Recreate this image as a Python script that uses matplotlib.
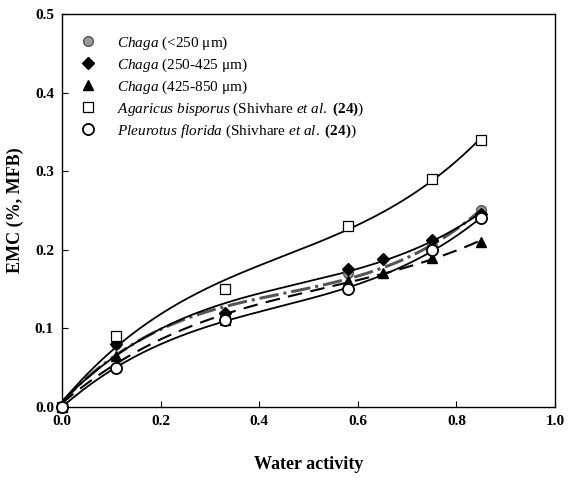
import numpy as np
import matplotlib
matplotlib.use('Agg')
import matplotlib.pyplot as plt
from matplotlib.lines import Line2D

plt.rcParams['font.family'] = 'Liberation Serif'
plt.rcParams['mathtext.fontset'] = 'custom'
plt.rcParams['mathtext.rm'] = 'Liberation Serif'
plt.rcParams['mathtext.it'] = 'Liberation Serif:italic'
plt.rcParams['mathtext.bf'] = 'Liberation Serif:bold'

# ── Data ─────────────────────────────────────────────────────────────────────
aw_small = [0.0, 0.11, 0.33, 0.58, 0.75, 0.85]
emc_small = [0.0, 0.08, 0.115, 0.17, 0.205, 0.25]

aw_mid = [0.0, 0.11, 0.33, 0.58, 0.65, 0.75, 0.85]
emc_mid = [0.0, 0.08, 0.12, 0.175, 0.188, 0.212, 0.245]

aw_large = [0.0, 0.11, 0.33, 0.58, 0.65, 0.75, 0.85]
emc_large = [0.0, 0.065, 0.11, 0.16, 0.17, 0.19, 0.21]

aw_agar = [0.0, 0.11, 0.33, 0.58, 0.75, 0.85]
emc_agar = [0.0, 0.09, 0.15, 0.23, 0.29, 0.34]

aw_pleu = [0.0, 0.11, 0.33, 0.58, 0.75, 0.85]
emc_pleu = [0.0, 0.05, 0.11, 0.15, 0.20, 0.24]

labels = [
    r'$\it{Chaga}$ (<250 μm)',
    r'$\it{Chaga}$ (250-425 μm)',
    r'$\it{Chaga}$ (425-850 μm)',
    r'$\it{Agaricus\ bisporus}$ (Shivhare $\it{et\ al.}$ $\bf{(24)}$)',
    r'$\it{Pleurotus\ florida}$ (Shivhare $\it{et\ al.}$ $\bf{(24)}$)',
]


def smooth_fit(aw, m):
    """Cubic least-squares curve through the measured points."""
    coef = np.polyfit(aw, m, 3)
    xs = np.linspace(0.0, max(aw), 200)
    return xs, np.polyval(coef, xs)


fig = plt.figure(figsize=(5.71, 4.82), dpi=100)
ax = fig.add_axes([0.109, 0.156, 0.863, 0.815])

series = [
    (aw_small, emc_small, dict(marker='o', mfc='#999999', mec='#555555', ms=7),
     dict(color='#555555', ls='-.', lw=2.2)),
    (aw_mid, emc_mid, dict(marker='D', mfc='black', mec='black', ms=6),
     dict(color='black', ls='-', lw=1.3)),
    (aw_large, emc_large, dict(marker='^', mfc='black', mec='black', ms=7),
     dict(color='black', ls=(0, (7, 4)), lw=1.5)),
    (aw_agar, emc_agar, dict(marker='s', mfc='white', mec='black', ms=7, mew=0.9),
     dict(color='black', ls='-', lw=1.3)),
    (aw_pleu, emc_pleu, dict(marker='o', mfc='white', mec='black', ms=8, mew=1.3),
     dict(color='black', ls='-', lw=1.3)),
]

handles = []
for (x, y, mk, ln), lab in zip(series, labels):
    xs, ys = smooth_fit(x, y)
    ax.plot(xs, ys, zorder=2, **ln)
    ax.plot(x, y, ls='none', zorder=3, clip_on=False, **mk)
    handles.append(Line2D([], [], ls='none', **mk))

ax.legend(handles, labels, loc='upper left', bbox_to_anchor=(0.0, 0.975),
          frameon=False, fontsize=11, handletextpad=0.9, labelspacing=0.3,
          borderaxespad=0.3)

ax.set_xlim(0, 1.0)
ax.set_ylim(0, 0.5)
ax.set_xticks(np.arange(0, 1.01, 0.2))
ax.set_yticks(np.arange(0, 0.51, 0.1))
ax.xaxis.set_major_formatter(matplotlib.ticker.FormatStrFormatter('%.1f'))
ax.yaxis.set_major_formatter(matplotlib.ticker.FormatStrFormatter('%.1f'))
ax.tick_params(direction='in', length=4, labelsize=11, pad=6)
for t in ax.get_xticklabels() + ax.get_yticklabels():
    t.set_fontweight('bold')
ax.set_xlabel('Water activity', fontsize=13, fontweight='bold', labelpad=20)
ax.set_ylabel('EMC (%, MFB)', fontsize=13, fontweight='bold', labelpad=8)
for s in ax.spines.values():
    s.set_linewidth(1.0)

fig.savefig('out.png', dpi=100)
